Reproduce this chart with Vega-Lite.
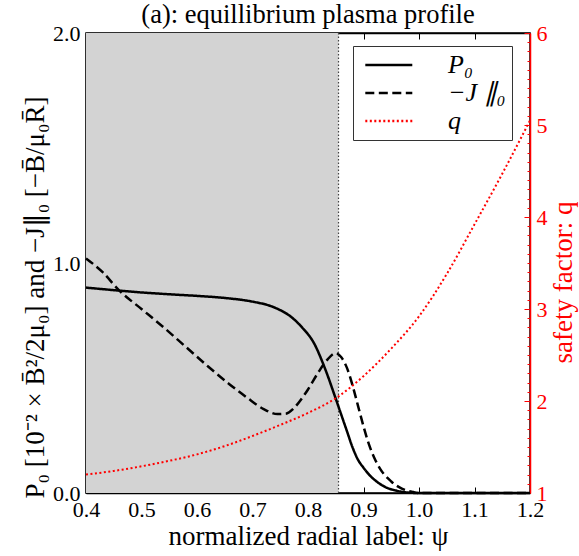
{
  "$schema": "https://vega.github.io/schema/vega-lite/v6.json",
  "width": 444,
  "height": 460,
  "autosize": "none",
  "padding": {"left": 86, "top": 33, "right": 49, "bottom": 63},
  "title": {"text": "(a): equillibrium plasma profile", "font": "Liberation Serif", "fontSize": 26.5, "fontWeight": "normal", "color": "black", "baseline": "alphabetic", "offset": -27, "frame": "group", "anchor": "middle"},
  "config": {
    "view": {"stroke": "black", "strokeWidth": 1.5},
    "font": "Liberation Serif",
    "axis": {"grid": false, "domainColor": "black", "domainWidth": 1.5, "tickColor": "black", "tickWidth": 1, "labelFont": "Liberation Serif", "labelFontSize": 22, "labelColor": "black", "titleFont": "Liberation Serif", "titleFontSize": 27, "titleFontWeight": "normal", "titleColor": "black", "labelFlush": false, "labelOverlap": false}
  },
  "datasets": {
    "P0": [
      {"psi": 0.40, "v": 0.893}, {"psi": 0.45, "v": 0.882}, {"psi": 0.50, "v": 0.872}, {"psi": 0.55, "v": 0.864},
      {"psi": 0.60, "v": 0.857}, {"psi": 0.65, "v": 0.848}, {"psi": 0.70, "v": 0.832}, {"psi": 0.73, "v": 0.815},
      {"psi": 0.75, "v": 0.795}, {"psi": 0.77, "v": 0.765}, {"psi": 0.79, "v": 0.718}, {"psi": 0.81, "v": 0.655},
      {"psi": 0.83, "v": 0.545}, {"psi": 0.85, "v": 0.41}, {"psi": 0.86, "v": 0.34}, {"psi": 0.87, "v": 0.27},
      {"psi": 0.88, "v": 0.20}, {"psi": 0.89, "v": 0.145}, {"psi": 0.90, "v": 0.11}, {"psi": 0.91, "v": 0.08},
      {"psi": 0.92, "v": 0.057}, {"psi": 0.94, "v": 0.025}, {"psi": 0.96, "v": 0.01}, {"psi": 0.98, "v": 0.002},
      {"psi": 1.00, "v": 0.0}, {"psi": 1.10, "v": 0.0}, {"psi": 1.20, "v": 0.0}
    ],
    "J0": [
      {"psi": 0.40, "v": 1.02}, {"psi": 0.43, "v": 0.96}, {"psi": 0.46, "v": 0.88}, {"psi": 0.50, "v": 0.80},
      {"psi": 0.54, "v": 0.72}, {"psi": 0.58, "v": 0.635}, {"psi": 0.62, "v": 0.55}, {"psi": 0.66, "v": 0.47},
      {"psi": 0.69, "v": 0.415}, {"psi": 0.72, "v": 0.365}, {"psi": 0.745, "v": 0.343}, {"psi": 0.76, "v": 0.345},
      {"psi": 0.775, "v": 0.37}, {"psi": 0.79, "v": 0.415}, {"psi": 0.80, "v": 0.45}, {"psi": 0.82, "v": 0.53},
      {"psi": 0.835, "v": 0.58}, {"psi": 0.85, "v": 0.608}, {"psi": 0.86, "v": 0.59}, {"psi": 0.87, "v": 0.545},
      {"psi": 0.88, "v": 0.47}, {"psi": 0.89, "v": 0.38}, {"psi": 0.90, "v": 0.29}, {"psi": 0.91, "v": 0.21},
      {"psi": 0.92, "v": 0.15}, {"psi": 0.93, "v": 0.105}, {"psi": 0.95, "v": 0.05}, {"psi": 0.97, "v": 0.018},
      {"psi": 0.99, "v": 0.004}, {"psi": 1.00, "v": 0.0}, {"psi": 1.10, "v": 0.0}, {"psi": 1.20, "v": 0.0}
    ],
    "q": [
      {"psi": 0.40, "v": 1.20}, {"psi": 0.45, "v": 1.24}, {"psi": 0.50, "v": 1.29}, {"psi": 0.55, "v": 1.35},
      {"psi": 0.60, "v": 1.42}, {"psi": 0.65, "v": 1.51}, {"psi": 0.70, "v": 1.62}, {"psi": 0.75, "v": 1.74},
      {"psi": 0.80, "v": 1.87}, {"psi": 0.85, "v": 2.03}, {"psi": 0.90, "v": 2.27}, {"psi": 0.95, "v": 2.57},
      {"psi": 1.00, "v": 2.92}, {"psi": 1.05, "v": 3.38}, {"psi": 1.10, "v": 3.92}, {"psi": 1.15, "v": 4.47},
      {"psi": 1.20, "v": 5.05}
    ]
  },
  "layer": [
    {
      "layer": [
        {
          "data": {"values": [{"a": 0.4, "b": 0.855}]},
          "mark": {"type": "rect", "color": "#d3d3d3"},
          "encoding": {
            "x": {"field": "a", "type": "quantitative", "scale": {"domain": [0.4, 1.2], "nice": false},
                  "axis": {"orient": "bottom", "values": [0.4, 0.5, 0.6, 0.7, 0.8, 0.9, 1.0, 1.1, 1.2], "format": ".1f", "tickSize": -6, "labelPadding": 12, "title": "normalized radial label: ψ", "titlePadding": 3}},
            "x2": {"field": "b"}
          }
        },
        {
          "data": {"values": [{"a": 0.855}]},
          "mark": {"type": "rule", "color": "#444444", "strokeWidth": 1.2, "strokeDash": [1.5, 2]},
          "encoding": {"x": {"field": "a", "type": "quantitative"}}
        },
        {
          "data": {"name": "P0"},
          "transform": [{"calculate": "'P₀'", "as": "series"}],
          "mark": {"type": "line", "strokeWidth": 2.5, "interpolate": "monotone"},
          "encoding": {
            "x": {"field": "psi", "type": "quantitative"},
            "y": {"field": "v", "type": "quantitative", "scale": {"domain": [0, 2], "nice": false},
                  "axis": {"orient": "left", "values": [0, 0.05, 0.1, 0.15, 0.2, 0.25, 0.3, 0.35, 0.4, 0.45, 0.5, 0.55, 0.6, 0.65, 0.7, 0.75, 0.8, 0.85, 0.9, 0.95, 1.0, 1.05, 1.1, 1.15, 1.2, 1.25, 1.3, 1.35, 1.4, 1.45, 1.5, 1.55, 1.6, 1.65, 1.7, 1.75, 1.8, 1.85, 1.9, 1.95, 2.0],
                           "labelExpr": "abs(datum.value*2 - round(datum.value*2)) < 0.001 ? format(datum.value, '.1f') : ''",
                           "tickSize": {"condition": {"test": "abs(datum.value*2 - round(datum.value*2)) < 0.001", "value": -6}, "value": -3},
                           "labelPadding": 12,
                           "title": "P₀ [10⁻² × B̄²/2μ₀] and −J∥₀ [−B̄/μ₀R̄]", "titlePadding": 3, "titleY": 264}},
            "color": {"field": "series", "type": "nominal", "scale": {"domain": ["P₀", "−J ∥₀", "q"], "range": ["black", "black", "#ff0000"]},
                      "legend": {"title": null, "orient": "none", "legendX": 267, "legendY": 13, "strokeColor": "#333333", "fillColor": "white", "padding": 6, "symbolType": "M-0.57,0H3.43", "symbolSize": 552, "symbolStrokeWidth": 2.5, "labelFont": "Liberation Serif", "labelFontSize": 26, "labelFontStyle": "italic", "labelOffset": 63, "rowPadding": 2, "labelColor": "black"}},
            "strokeDash": {"field": "series", "type": "nominal", "scale": {"domain": ["P₀", "−J ∥₀", "q"], "range": [[1, 0], [9, 4.5], [2, 2.5]]},
                           "legend": {"title": null, "orient": "none", "legendX": 267, "legendY": 13, "strokeColor": "#333333", "fillColor": "white", "padding": 6, "symbolType": "M-0.57,0H3.43", "symbolSize": 552, "symbolStrokeWidth": 2.5, "labelFont": "Liberation Serif", "labelFontSize": 26, "labelFontStyle": "italic", "labelOffset": 63, "rowPadding": 2, "labelColor": "black"}}
          }
        },
        {
          "data": {"name": "J0"},
          "transform": [{"calculate": "'−J ∥₀'", "as": "series"}],
          "mark": {"type": "line", "strokeWidth": 2.5, "interpolate": "monotone"},
          "encoding": {
            "x": {"field": "psi", "type": "quantitative"},
            "y": {"field": "v", "type": "quantitative"},
            "color": {"field": "series", "type": "nominal"},
            "strokeDash": {"field": "series", "type": "nominal"}
          }
        }
      ]
    },
    {
      "data": {"name": "q"},
      "transform": [{"calculate": "'q'", "as": "series"}],
      "mark": {"type": "line", "strokeWidth": 2, "interpolate": "monotone"},
      "encoding": {
        "x": {"field": "psi", "type": "quantitative", "axis": {"orient": "top", "values": [0.4, 0.5, 0.6, 0.7, 0.8, 0.9, 1.0, 1.1, 1.2], "labels": false, "title": null, "tickSize": -6}},
        "y": {"field": "v", "type": "quantitative", "scale": {"domain": [1, 6], "nice": false},
              "axis": {"orient": "right", "values": [1, 1.1, 1.2, 1.3, 1.4, 1.5, 1.6, 1.7, 1.8, 1.9, 2, 2.1, 2.2, 2.3, 2.4, 2.5, 2.6, 2.7, 2.8, 2.9, 3, 3.1, 3.2, 3.3, 3.4, 3.5, 3.6, 3.7, 3.8, 3.9, 4, 4.1, 4.2, 4.3, 4.4, 4.5, 4.6, 4.7, 4.8, 4.9, 5, 5.1, 5.2, 5.3, 5.4, 5.5, 5.6, 5.7, 5.8, 5.9, 6],
                       "labelExpr": "abs(datum.value - round(datum.value)) < 0.001 ? format(datum.value, 'd') : ''",
                       "tickSize": {"condition": {"test": "abs(datum.value - round(datum.value)) < 0.001", "value": -6}, "value": -3},
                       "domainColor": "#ff0000", "tickColor": "#ff0000", "labelColor": "#ff0000", "titleColor": "#ff0000",
                       "labelPadding": 12, "title": "safety factor: q", "titleAngle": -90, "titleBaseline": "top", "titlePadding": 3, "titleY": 249}},
        "color": {"field": "series", "type": "nominal"},
        "strokeDash": {"field": "series", "type": "nominal"}
      }
    }
  ],
  "resolve": {"scale": {"y": "independent"}, "axis": {"x": "independent"}}
}
